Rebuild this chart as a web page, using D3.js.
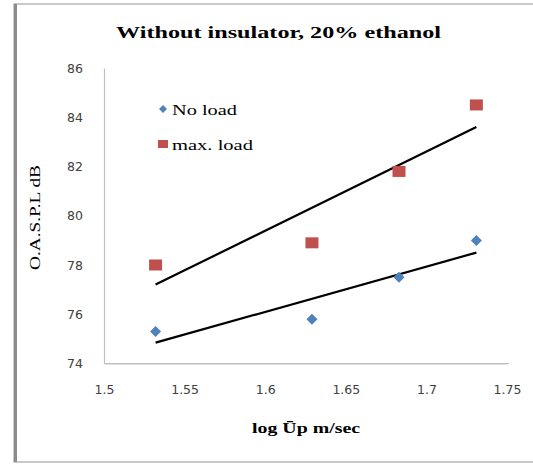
<!DOCTYPE html>
<html><head><meta charset="utf-8">
<script src="https://cdn.jsdelivr.net/npm/d3@7"></script>
<style>html,body{margin:0;padding:0;background:#fff;}svg{display:block;}</style>
</head><body>
<svg id="chart" width="533" height="464"></svg>
<script>
const title = "Without insulator, 20%  ethanol";
const xTitle = "log Ūp m/sec";
const yTitle = "O.A.S.P.L dB";
const seriesNames = ["No load", "max. load"];
const xValues = [1.532, 1.629, 1.683, 1.731];
const noLoad = [75.3, 75.8, 77.5, 79.0];
const maxLoad = [78.0, 78.9, 81.8, 84.5];
const xTicks = [1.5, 1.55, 1.6, 1.65, 1.7, 1.75];
const xTickLabels = ["1.5", "1.55", "1.6", "1.65", "1.7", "1.75"];
const yTicks = [74, 76, 78, 80, 82, 84, 86];

const svg = d3.select("#chart");
const L = 104, R = 507, T = 68, B = 363.5;
const x = d3.scaleLinear().domain([1.5, 1.75]).range([L, R]);
const y = d3.scaleLinear().domain([74, 86]).range([B, T]);

// frame
svg.append("rect").attr("x", 14).attr("y", 4).attr("width", 530).attr("height", 458)
  .attr("fill", "#fff").attr("stroke", "#a6a6a6").attr("stroke-width", 1.2);
svg.append("line").attr("x1", 15.5).attr("x2", 15.5).attr("y1", 4).attr("y2", 462)
  .attr("stroke", "#8c8c8c").attr("stroke-width", 3);

// axes
const yAxis = d3.axisLeft(y).tickValues(yTicks).tickSize(0).tickPadding(0).tickFormat(d => d);
const gy = svg.append("g").attr("transform", `translate(${L},0)`).call(yAxis);
gy.select(".domain").attr("stroke", "#bfbfbf").attr("stroke-width", 1.2);
gy.selectAll("text").attr("x", -21).attr("font-family", "DejaVu Sans, Verdana, sans-serif")
  .attr("font-size", 12.5).attr("fill", "#404040");

const xAxis = d3.axisBottom(x).tickValues(xTicks).tickSize(0).tickPadding(0)
  .tickFormat((d, i) => xTickLabels[i]);
const gx = svg.append("g").attr("transform", `translate(0,${B})`).call(xAxis);
gx.select(".domain").attr("stroke", "#bfbfbf").attr("stroke-width", 1.2);
gx.selectAll("text").attr("y", 22).attr("font-family", "DejaVu Sans, Verdana, sans-serif")
  .attr("font-size", 12.5).attr("fill", "#404040");
// extend x axis line slightly
svg.append("line").attr("x1", L).attr("x2", R + 2).attr("y1", B).attr("y2", B)
  .attr("stroke", "#bfbfbf").attr("stroke-width", 1.2);

// trendlines (least squares fit)
function fit(xs, ys) {
  const mx = d3.mean(xs), my = d3.mean(ys);
  let sxy = 0, sxx = 0;
  xs.forEach((v, i) => { sxy += (v - mx) * (ys[i] - my); sxx += (v - mx) * (v - mx); });
  const b = sxy / sxx;
  return v => my + b * (v - mx);
}
[noLoad, maxLoad].forEach(ys => {
  const f = fit(xValues, ys);
  const x0 = d3.min(xValues), x1 = d3.max(xValues);
  svg.append("line").attr("x1", x(x0)).attr("y1", y(f(x0))).attr("x2", x(x1)).attr("y2", y(f(x1)))
    .attr("stroke", "#000").attr("stroke-width", 2.2);
});

// markers
const blue = "#4F81BD", red = "#C0504D";
const diamond = (cx, cy, r) => `M${cx},${cy - r}L${cx + r},${cy}L${cx},${cy + r}L${cx - r},${cy}Z`;
svg.selectAll(".nl").data(xValues).enter().append("path")
  .attr("d", (d, i) => diamond(x(d), y(noLoad[i]), 5.5)).attr("fill", blue);
svg.selectAll(".ml").data(xValues).enter().append("rect")
  .attr("x", d => x(d) - 6.5).attr("y", (d, i) => y(maxLoad[i]) - 5.5)
  .attr("width", 13).attr("height", 11).attr("fill", red);

// legend
svg.append("path").attr("d", diamond(163, 109, 4)).attr("fill", blue);
svg.append("rect").attr("x", 158).attr("y", 140).attr("width", 10).attr("height", 8).attr("fill", red);
svg.append("text").attr("x", 172).attr("y", 114.5).text(seriesNames[0])
  .attr("font-family", "Liberation Serif, Times New Roman, serif").attr("font-size", 15.5)
  .attr("textLength", 65).attr("lengthAdjust", "spacingAndGlyphs").attr("fill", "#000");
svg.append("text").attr("x", 172).attr("y", 149.5).text(seriesNames[1])
  .attr("font-family", "Liberation Serif, Times New Roman, serif").attr("font-size", 15.5)
  .attr("textLength", 81).attr("lengthAdjust", "spacingAndGlyphs").attr("fill", "#000");

// titles
svg.append("text").attr("x", 116).attr("y", 38).text(title)
  .attr("font-family", "Liberation Serif, Times New Roman, serif").attr("font-weight", "bold")
  .attr("font-size", 17.5).attr("textLength", 325).attr("lengthAdjust", "spacingAndGlyphs");
svg.append("text").attr("x", 252).attr("y", 433).text(xTitle)
  .attr("font-family", "Liberation Serif, Times New Roman, serif").attr("font-weight", "bold")
  .attr("font-size", 14).attr("textLength", 108).attr("lengthAdjust", "spacingAndGlyphs");
svg.append("text").attr("transform", "translate(40,270) rotate(-90)").attr("x", 0).attr("y", 0)
  .text(yTitle).attr("font-family", "Liberation Serif, Times New Roman, serif")
  .attr("font-size", 14.5).attr("textLength", 105).attr("lengthAdjust", "spacingAndGlyphs");
</script>
</body></html>
